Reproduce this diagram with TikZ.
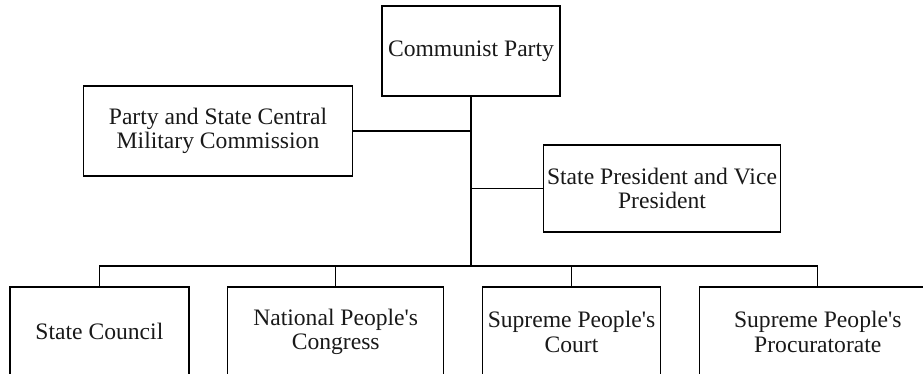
\documentclass[tikz,border=0pt]{standalone}
\usepackage{fontspec}
\setmainfont{Liberation Serif}
\usetikzlibrary{matrix, positioning}

\begin{document}
\begin{tikzpicture}[x=1pt, y=1pt, every node/.style={font=\fontsize{23.6}{24.4}\selectfont, text=black!90},
box/.style={draw, line width=1.4pt, minimum height=90pt, align=center, inner xsep=2pt}]
\useasboundingbox (0,0) rectangle (923,-374);
\clip (0,0) rectangle (923,-374);
\node[box, minimum width=178pt] (p1) at (471,-51) {Communist Party};
\node[box, minimum width=269pt] (c1) at (218,-131) {Party and State Central\\Military Commission};
\node[box, minimum width=237pt, minimum height=87pt] (v1) at (662,-188.5) {State President and Vice\\President};
\matrix (m) [column sep = 37.4pt, inner sep = 0pt, anchor = north west] at (9,-286) {
\node[box, minimum width=179pt](s1){State Council}; & \node[box, minimum width=216pt](s2){National People\textquotesingle s\\Congress}; & \node[box, minimum width=178pt](s3){Supreme People\textquotesingle s\\Court}; & \node[box, minimum width=237pt](s4){Supreme People\textquotesingle s\\Procuratorate}; \\
};
\coordinate (b) at (p1.south |- 0,-266);
\draw [line width=2.4pt] (p1) -- (b);
\draw [line width=1.3pt] (c1) -- (c1 -| b);
\draw [line width=1.3pt] (v1) -- (v1 -| b);
\draw [line width=1.3pt] (s1) |- (b) -| (s4);
\draw [line width=1.3pt] (s2) -- (s2 |- b);
\draw [line width=1.3pt] (s3) -- (s3 |- b);
\end{tikzpicture}
\end{document}
